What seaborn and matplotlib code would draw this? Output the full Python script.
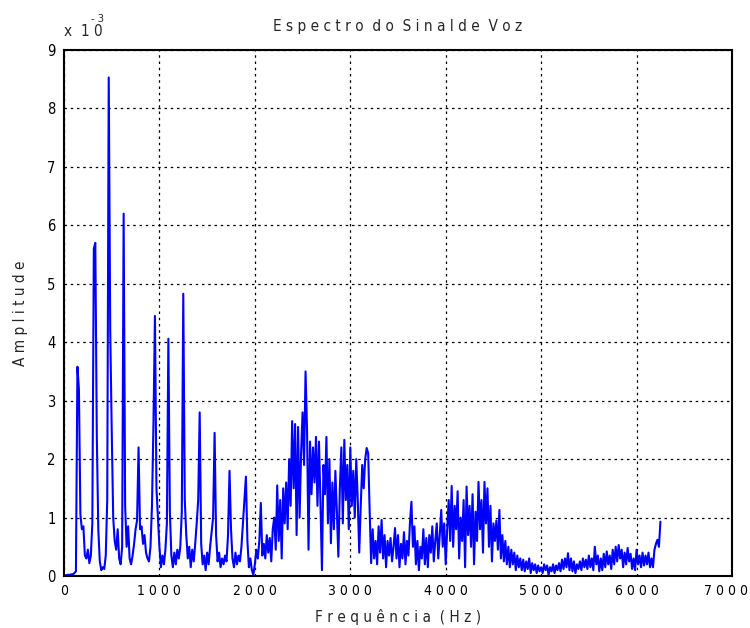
import numpy as np
import pandas as pd
import seaborn as sns
import matplotlib
matplotlib.use("Agg")
import matplotlib.pyplot as plt
from matplotlib import font_manager
from matplotlib.transforms import ScaledTranslation

# FFT bin spacing (Hz) and amplitude values (x 10^-3)
bin_hz = 15.625

amp_0000_0609 = [0.01, 0.01, 0.02, 0.02, 0.02, 0.03, 0.03, 0.05, 0.08, 3.58,
                 3.2, 1.05, 0.8, 0.85, 0.35, 0.3, 0.45, 0.22, 0.35, 0.9,
                 5.6, 5.7, 2.4, 0.8, 0.25, 0.1, 0.15, 0.12, 0.35, 1.3,
                 8.53, 4.2, 2.5, 1.0, 0.6, 0.45, 0.8, 0.3, 0.2, 0.5]
amp_0625_1234 = [6.2, 1.2, 0.5, 0.85, 0.3, 0.2, 0.35, 0.55, 0.8, 0.95,
                 2.2, 0.8, 0.85, 0.55, 0.7, 0.4, 0.3, 0.25, 0.5, 1.2,
                 2.6, 4.45, 1.5, 1.0, 0.5, 0.15, 0.35, 0.2, 0.45, 0.9,
                 4.06, 1.1, 0.35, 0.15, 0.4, 0.2, 0.45, 0.3, 0.5, 1.1]
amp_1250_1859 = [4.83, 1.3, 0.7, 0.3, 0.5, 0.15, 0.45, 0.25, 0.55, 0.9,
                 1.3, 2.8, 0.55, 0.2, 0.35, 0.1, 0.4, 0.2, 0.5, 0.75,
                 1.0, 2.45, 0.7, 0.25, 0.4, 0.15, 0.3, 0.2, 0.35, 0.25,
                 0.7, 1.8, 0.8, 0.3, 0.15, 0.4, 0.2, 0.35, 0.25, 0.5]
amp_1875_2484 = [0.9, 1.3, 1.7, 0.6, 0.15, 0.3, 0.1, 0.02, 0.2, 0.45,
                 0.3, 0.6, 1.25, 0.35, 0.55, 0.3, 0.7, 0.4, 0.65, 0.25,
                 0.8, 1.0, 0.45, 1.55, 0.6, 1.3, 0.3, 1.5, 0.9, 1.6,
                 0.8, 2.0, 1.2, 2.65, 1.5, 2.6, 0.7, 2.55, 1.0, 2.1]
amp_2500_3109 = [2.8, 1.9, 3.5, 2.5, 0.45, 2.3, 1.4, 2.2, 1.6, 2.38,
                 1.2, 2.3, 1.25, 0.1, 1.9, 1.4, 2.38, 0.9, 2.0, 0.56,
                 1.6, 0.8, 1.8, 1.1, 0.33, 1.5, 2.2, 0.9, 2.33, 1.3,
                 1.9, 0.8, 2.2, 1.2, 1.8, 1.0, 2.0, 1.3, 0.4, 1.2]
amp_3125_3734 = [1.9, 1.5, 2.0, 2.19, 2.1, 1.1, 0.22, 0.8, 0.3, 0.6,
                 0.2, 0.85, 0.4, 0.96, 0.3, 0.7, 0.15, 0.6, 0.35, 0.65,
                 0.25, 0.5, 0.82, 0.3, 0.7, 0.15, 0.55, 0.3, 0.75, 0.2,
                 0.6, 0.35, 0.9, 1.27, 0.5, 0.85, 0.2, 0.6, 0.1, 0.5]
amp_3750_4359 = [0.3, 0.8, 0.2, 0.65, 0.15, 0.7, 0.4, 0.85, 0.25, 0.6,
                 0.9, 0.3, 0.7, 1.13, 0.5, 0.9, 0.2, 0.8, 1.3, 0.6,
                 1.54, 0.5, 1.2, 0.8, 1.45, 0.3, 1.0, 0.6, 1.3, 0.15,
                 1.53, 0.7, 1.2, 0.5, 1.4, 0.2, 1.1, 0.6, 1.61, 0.8]
amp_4375_4984 = [1.3, 0.4, 1.61, 0.9, 1.5, 0.5, 1.2, 0.25, 0.9, 0.6,
                 0.95, 0.45, 1.13, 0.3, 0.7, 0.25, 0.6, 0.2, 0.5, 0.15,
                 0.45, 0.2, 0.4, 0.1, 0.35, 0.15, 0.3, 0.1, 0.28, 0.08,
                 0.25, 0.12, 0.3, 0.05, 0.22, 0.1, 0.2, 0.05, 0.18, 0.08]
amp_5000_5609 = [0.15, 0.05, 0.2, 0.1, 0.18, 0.02, 0.15, 0.08, 0.2, 0.05,
                 0.18, 0.1, 0.22, 0.08, 0.28, 0.12, 0.3, 0.15, 0.39, 0.1,
                 0.3, 0.08, 0.25, 0.05, 0.2, 0.12, 0.25, 0.1, 0.3, 0.15,
                 0.28, 0.12, 0.35, 0.15, 0.3, 0.1, 0.5, 0.2, 0.35, 0.08]
amp_5625_6250 = [0.3, 0.1, 0.38, 0.15, 0.42, 0.2, 0.35, 0.12, 0.45, 0.2,
                 0.5, 0.25, 0.53, 0.3, 0.45, 0.15, 0.4, 0.2, 0.48, 0.25,
                 0.38, 0.12, 0.3, 0.1, 0.45, 0.2, 0.35, 0.15, 0.4, 0.18,
                 0.35, 0.2, 0.4, 0.15, 0.3, 0.15, 0.45, 0.55, 0.62, 0.5,
                 0.93]

x_ticks = [0, 1000, 2000, 3000, 4000, 5000, 6000, 7000]
y_ticks = [0, 1, 2, 3, 4, 5, 6, 7, 8, 9]

amplitude = (amp_0000_0609 + amp_0625_1234 + amp_1250_1859 + amp_1875_2484 +
             amp_2500_3109 + amp_3125_3734 + amp_3750_4359 + amp_4375_4984 +
             amp_5000_5609 + amp_5625_6250)
frequency = np.arange(len(amplitude)) * bin_hz
df = pd.DataFrame({"freq": frequency, "amp": amplitude})

sns.set_style("white")

# pick a narrow font if one is installed
fam_name, stretch = "Liberation Sans", "normal"
for f in font_manager.fontManager.ttflist:
    if "Narrow" in f.name and "Liberation" in f.name and f.style == "normal" and f.weight in (400, "normal"):
        fam_name, stretch = f.name, "normal"
        break
else:
    for f in font_manager.fontManager.ttflist:
        if f.name == "DejaVu Sans" and str(f.stretch) in ("condensed", "semi-condensed", "75", "87.5") \
                and f.style == "normal" and f.weight in (400, "normal"):
            fam_name, stretch = "DejaVu Sans", "condensed"
            break
plt.rcParams["font.family"] = [fam_name, "DejaVu Sans"]
plt.rcParams["font.stretch"] = stretch

def spaced(s, sep=" "):
    return sep.join(s)

fig = plt.figure(figsize=(7.5, 6.28), dpi=100)
ax = fig.add_axes([64 / 750, 1 - 576 / 628, (732 - 64) / 750, (576 - 50) / 628])

sns.lineplot(data=df, x="freq", y="amp", ax=ax, color="#0000ff",
             linewidth=1.5, estimator=None, sort=False)

fs = 11
ax.set_xlim(0, 7000)
ax.set_ylim(0, 9)
ax.set_xticks(x_ticks)
ax.set_xticklabels([spaced(str(v)) for v in x_ticks], fontsize=10)
ax.set_yticks(y_ticks)
ax.set_yticklabels([str(v) for v in y_ticks], fontsize=10.5)
ax.tick_params(axis="both", direction="in", length=4, width=1, colors="black",
               pad=6)
ax.grid(True, color="black", linestyle=(0, (2, 3)), linewidth=0.9)
for sp in ax.spines.values():
    sp.set_color("black")
    sp.set_linewidth(1.5)

# keep the last x tick label inside the figure
last = ax.get_xticklabels()[-1]
last.set_transform(last.get_transform() + ScaledTranslation(-6 / 100, 0, fig.dpi_scale_trans))

ax.set_xlabel(spaced("Frequência") + "  " + spaced("(Hz)"), fontsize=fs, labelpad=8)
ax.set_ylabel(spaced("Amplitude"), fontsize=fs, labelpad=14)
ax.set_title(spaced("Espectro") + "  " + spaced("do") + "  " + spaced("Sinal") + " " +
             spaced("de") + "  " + spaced("Voz"), fontsize=fs, pad=14)

fig.text(64 / 750, 1 - 36 / 628, "x  1 0", fontsize=fs, ha="left", va="baseline")
fig.text(91 / 750, 1 - 22 / 628, "- 3", fontsize=8, ha="left", va="baseline")

fig.savefig("out.png", dpi=100)
